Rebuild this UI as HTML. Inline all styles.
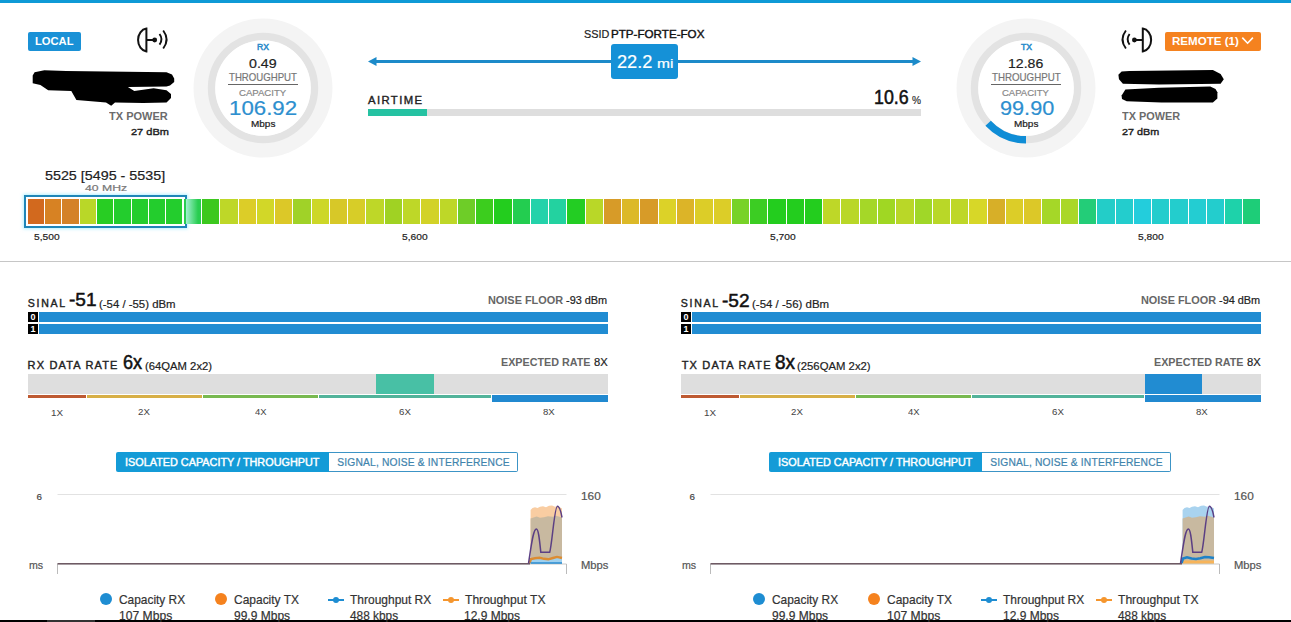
<!DOCTYPE html>
<html><head><meta charset="utf-8"><style>
html,body{margin:0;padding:0;width:1291px;height:622px;overflow:hidden;background:#fff;}
body{position:relative;font-family:"Liberation Sans",sans-serif;}
.abs{position:absolute;}
.t{position:absolute;white-space:nowrap;transform-origin:0 0;}
.cell{position:absolute;top:199px;height:25px;}
</style></head><body>
<div class="abs" style="left:0;top:0;width:1291px;height:3px;background:#0f9ad6"></div>
<div class="abs" style="left:28px;top:32px;width:53px;height:19px;background:#1a91d6;border-radius:2px"></div>
<div class="abs" style="left:1165px;top:32px;width:96px;height:19px;background:#f5821f;border-radius:2px"></div>
<svg class="abs" style="left:1240px;top:35px" width="16" height="12" viewBox="1240 35 16 12"><polyline points="1242.3,37.6 1247.6,43.2 1252.9,37.6" fill="none" stroke="#fff" stroke-width="1.6"/></svg>
<svg class="abs" style="left:130px;top:24px" width="42" height="32" viewBox="130 24 42 32">
<path d="M146.4,28.6 A9.6,11.5 0 0 0 146.4,51.4 Z" fill="none" stroke="#111" stroke-width="2"/>
<line x1="146.4" y1="40" x2="154" y2="40" stroke="#111" stroke-width="2"/>
<circle cx="154.7" cy="40" r="2.4" fill="#111"/>
<path d="M159.5,34 Q163.5,39.3 159.5,44.6" fill="none" stroke="#111" stroke-width="1.9"/>
<path d="M163.2,30.5 Q170,39.5 163.2,48.5" fill="none" stroke="#111" stroke-width="1.9"/>
</svg>
<svg class="abs" style="left:1116px;top:24px" width="42" height="32" viewBox="1116 24 42 32">
<path d="M1142.8,28.6 A9.6,11.5 0 0 1 1142.8,51.4 Z" fill="none" stroke="#111" stroke-width="2"/>
<line x1="1142.8" y1="40" x2="1135" y2="40" stroke="#111" stroke-width="2"/>
<circle cx="1134.4" cy="40" r="2.4" fill="#111"/>
<path d="M1129.6,34 Q1125.6,39.3 1129.6,44.6" fill="none" stroke="#111" stroke-width="1.9"/>
<path d="M1125.9,30.5 Q1119.1,39.5 1125.9,48.5" fill="none" stroke="#111" stroke-width="1.9"/>
</svg>
<svg class="abs" style="left:0;top:0" width="1291" height="622" viewBox="0 0 1291 622">
<path d="M32.7,75.4 L34.6,72.2 L44.3,70.3 L66.2,70.9 L166.5,72.2 L172,74.5 L174.2,78.5 L174.2,81.9 L170,85.5 L166.5,86.4 L127.9,87 L134.3,90.9 L153.6,88.3 L166.5,90.2 L171,94 L171,98 L166.5,102.4 L143.3,103.1 L115,102.4 L111.2,105.7 L106,102.4 L76.4,99.9 L71.3,90.9 L48.2,90.2 L40.4,85.1 L32.7,83.2 Z" fill="#000"/>
<path d="M1118.4,74.8 L1121.6,71.6 L1129.3,70.9 L1212.9,70 L1220.6,74.1 L1223.8,79.3 L1220.6,83.8 L1158.9,84.4 L1122.9,83.8 L1119,79.3 Z" fill="#000"/>
<path d="M1121.6,95.4 L1125.4,89.6 L1158.9,87.7 L1210.3,86.4 L1215.5,89 L1217.4,92.2 L1217.4,98.6 L1212.9,102.4 L1161.4,102.4 L1126.7,101.2 L1122,99 Z" fill="#000"/>
</svg>
<svg class="abs" style="left:190.60000000000002px;top:15.599999999999994px" width="144" height="144" viewBox="-72 -72 144 144"><circle cx="0" cy="0" r="69.5" fill="#f4f4f4"/><circle cx="0" cy="0" r="51.5" fill="none" stroke="#e3e3e3" stroke-width="7.4"/><circle cx="0" cy="0" r="47.8" fill="#fff"/></svg>
<svg class="abs" style="left:954.0px;top:16.0px" width="144" height="144" viewBox="-72 -72 144 144"><circle cx="0" cy="0" r="69.5" fill="#f4f4f4"/><circle cx="0" cy="0" r="51.5" fill="none" stroke="#e3e3e3" stroke-width="7.4"/><circle cx="0" cy="0" r="47.8" fill="#fff"/><path d="M0,51.8 A51.8,51.8 0 0 1 -37.88,35.33" fill="none" stroke="#0f8dd6" stroke-width="7.4"/></svg>
<div class="abs" style="left:228px;top:84px;width:70px;height:1px;background:#666"></div>
<div class="abs" style="left:991px;top:84px;width:70px;height:1px;background:#666"></div>
<svg class="abs" style="left:0;top:0" width="1291" height="622" viewBox="0 0 1291 622">
<line x1="374" y1="61.5" x2="915" y2="61.5" stroke="#1c8ac9" stroke-width="3"/>
<polygon points="368,61.5 376.5,57 376.5,66" fill="#1c8ac9"/>
<polygon points="921,61.5 912.5,57 912.5,66" fill="#1c8ac9"/>
</svg>
<div class="abs" style="left:611px;top:44px;width:67px;height:35px;background:#1591d7;border-radius:3px"></div>
<div class="abs" style="left:368px;top:109px;width:553px;height:7px;background:#dedede"></div>
<div class="abs" style="left:368px;top:109px;width:59px;height:7px;background:#25c2a2"></div>
<div class="abs" style="left:24px;top:195px;width:159px;height:29px;border:2px solid #1f86b8;box-shadow:0 0 3px 1px rgba(120,230,255,0.55)"></div>
<div class="cell" style="left:28.00px;width:16.00px;background:rgb(210,105,30)"></div>
<div class="cell" style="left:45.00px;width:16.00px;background:rgb(215,130,35)"></div>
<div class="cell" style="left:62.00px;width:17.00px;background:rgb(212,130,40)"></div>
<div class="cell" style="left:80.00px;width:16.00px;background:rgb(185,215,40)"></div>
<div class="cell" style="left:97.00px;width:16.00px;background:rgb(40,205,35)"></div>
<div class="cell" style="left:114.00px;width:17.00px;background:rgb(35,205,45)"></div>
<div class="cell" style="left:132.00px;width:16.00px;background:rgb(35,205,45)"></div>
<div class="cell" style="left:149.00px;width:16.00px;background:rgb(35,205,45)"></div>
<div class="cell" style="left:166.00px;width:16.00px;background:rgb(35,205,45)"></div>
<div class="cell" style="left:184.00px;width:17.00px;background:rgb(40,205,80)"></div>
<div class="cell" style="left:202.00px;width:17.00px;background:rgb(60,200,30)"></div>
<div class="cell" style="left:220.00px;width:18.00px;background:rgb(190,215,40)"></div>
<div class="cell" style="left:239.00px;width:17.00px;background:rgb(220,205,40)"></div>
<div class="cell" style="left:257.00px;width:17.00px;background:rgb(210,215,40)"></div>
<div class="cell" style="left:275.00px;width:17.00px;background:rgb(220,200,40)"></div>
<div class="cell" style="left:293.00px;width:18.00px;background:rgb(160,210,40)"></div>
<div class="cell" style="left:312.00px;width:17.00px;background:rgb(205,215,40)"></div>
<div class="cell" style="left:330.00px;width:17.00px;background:rgb(215,200,40)"></div>
<div class="cell" style="left:348.00px;width:17.00px;background:rgb(215,205,40)"></div>
<div class="cell" style="left:366.00px;width:18.00px;background:rgb(190,215,40)"></div>
<div class="cell" style="left:385.00px;width:17.00px;background:rgb(160,210,35)"></div>
<div class="cell" style="left:403.00px;width:17.00px;background:rgb(190,215,40)"></div>
<div class="cell" style="left:421.00px;width:18.00px;background:rgb(210,210,40)"></div>
<div class="cell" style="left:440.00px;width:17.00px;background:rgb(190,215,40)"></div>
<div class="cell" style="left:458.00px;width:17.00px;background:rgb(110,205,40)"></div>
<div class="cell" style="left:476.00px;width:17.00px;background:rgb(60,205,30)"></div>
<div class="cell" style="left:494.00px;width:18.00px;background:rgb(35,205,30)"></div>
<div class="cell" style="left:513.00px;width:17.00px;background:rgb(35,205,80)"></div>
<div class="cell" style="left:531.00px;width:17.00px;background:rgb(35,210,170)"></div>
<div class="cell" style="left:549.00px;width:17.00px;background:rgb(35,210,160)"></div>
<div class="cell" style="left:567.00px;width:18.00px;background:rgb(35,205,35)"></div>
<div class="cell" style="left:586.00px;width:17.00px;background:rgb(185,215,40)"></div>
<div class="cell" style="left:604.00px;width:17.00px;background:rgb(215,155,40)"></div>
<div class="cell" style="left:622.00px;width:17.00px;background:rgb(220,185,40)"></div>
<div class="cell" style="left:640.00px;width:18.00px;background:rgb(215,155,40)"></div>
<div class="cell" style="left:659.00px;width:17.00px;background:rgb(220,210,40)"></div>
<div class="cell" style="left:677.00px;width:17.00px;background:rgb(220,180,40)"></div>
<div class="cell" style="left:695.00px;width:18.00px;background:rgb(220,205,40)"></div>
<div class="cell" style="left:714.00px;width:17.00px;background:rgb(220,205,40)"></div>
<div class="cell" style="left:732.00px;width:17.00px;background:rgb(120,210,40)"></div>
<div class="cell" style="left:750.00px;width:17.00px;background:rgb(60,205,35)"></div>
<div class="cell" style="left:768.00px;width:18.00px;background:rgb(35,205,30)"></div>
<div class="cell" style="left:787.00px;width:17.00px;background:rgb(35,205,30)"></div>
<div class="cell" style="left:805.00px;width:17.00px;background:rgb(35,205,30)"></div>
<div class="cell" style="left:823.00px;width:17.00px;background:rgb(190,215,40)"></div>
<div class="cell" style="left:841.00px;width:18.00px;background:rgb(185,215,40)"></div>
<div class="cell" style="left:860.00px;width:17.00px;background:rgb(165,215,40)"></div>
<div class="cell" style="left:878.00px;width:17.00px;background:rgb(160,215,35)"></div>
<div class="cell" style="left:896.00px;width:18.00px;background:rgb(185,215,40)"></div>
<div class="cell" style="left:915.00px;width:17.00px;background:rgb(160,215,40)"></div>
<div class="cell" style="left:933.00px;width:17.00px;background:rgb(185,215,40)"></div>
<div class="cell" style="left:951.00px;width:17.00px;background:rgb(190,215,40)"></div>
<div class="cell" style="left:969.00px;width:18.00px;background:rgb(215,215,40)"></div>
<div class="cell" style="left:988.00px;width:17.00px;background:rgb(215,175,40)"></div>
<div class="cell" style="left:1006.00px;width:17.00px;background:rgb(220,205,40)"></div>
<div class="cell" style="left:1024.00px;width:17.00px;background:rgb(220,200,40)"></div>
<div class="cell" style="left:1042.00px;width:18.00px;background:rgb(165,215,40)"></div>
<div class="cell" style="left:1061.00px;width:17.00px;background:rgb(170,215,40)"></div>
<div class="cell" style="left:1079.00px;width:17.00px;background:rgb(35,205,120)"></div>
<div class="cell" style="left:1097.00px;width:18.00px;background:rgb(35,205,200)"></div>
<div class="cell" style="left:1116.00px;width:17.00px;background:rgb(35,205,205)"></div>
<div class="cell" style="left:1134.00px;width:17.00px;background:rgb(35,205,220)"></div>
<div class="cell" style="left:1152.00px;width:17.00px;background:rgb(35,205,205)"></div>
<div class="cell" style="left:1170.00px;width:18.00px;background:rgb(35,205,205)"></div>
<div class="cell" style="left:1189.00px;width:17.00px;background:rgb(35,205,210)"></div>
<div class="cell" style="left:1207.00px;width:17.00px;background:rgb(35,205,205)"></div>
<div class="cell" style="left:1225.00px;width:17.00px;background:rgb(30,210,170)"></div>
<div class="cell" style="left:1243.00px;width:17.00px;background:rgb(30,205,120)"></div>
<div class="abs" style="left:186px;top:199px;width:12px;height:25px;background:linear-gradient(90deg,rgba(190,250,240,0.8),rgba(190,250,240,0))"></div>
<div class="abs" style="left:0;top:261px;width:1291px;height:1px;background:#c6c6c6"></div>
<div class="abs" style="left:28px;top:312px;width:10px;height:10px;background:#000;color:#fff;font:bold 9px/10px 'Liberation Sans',sans-serif;text-align:center">0</div><div class="abs" style="left:39px;top:312px;width:569px;height:10px;background:#218cd2"></div><div class="abs" style="left:28px;top:324px;width:10px;height:10px;background:#000;color:#fff;font:bold 9px/10px 'Liberation Sans',sans-serif;text-align:center">1</div><div class="abs" style="left:39px;top:324px;width:569px;height:10px;background:#218cd2"></div><div class="abs" style="left:681px;top:312px;width:10px;height:10px;background:#000;color:#fff;font:bold 9px/10px 'Liberation Sans',sans-serif;text-align:center">0</div><div class="abs" style="left:692px;top:312px;width:569px;height:10px;background:#218cd2"></div><div class="abs" style="left:681px;top:324px;width:10px;height:10px;background:#000;color:#fff;font:bold 9px/10px 'Liberation Sans',sans-serif;text-align:center">1</div><div class="abs" style="left:692px;top:324px;width:569px;height:10px;background:#218cd2"></div>
<div class="abs" style="left:28px;top:374px;width:580px;height:20px;background:#dedede"></div><div class="abs" style="left:376px;top:374px;width:58px;height:20px;background:#48c0a5"></div><div class="abs" style="left:28px;top:395px;width:58px;height:3px;background:#be5a32"></div><div class="abs" style="left:87px;top:395px;width:115px;height:3px;background:#d7af46"></div><div class="abs" style="left:203px;top:395px;width:115px;height:3px;background:#78b950"></div><div class="abs" style="left:319px;top:395px;width:172px;height:3px;background:#52b39a"></div><div class="abs" style="left:492px;top:395px;width:116px;height:7px;background:#2189d0"></div>
<div class="abs" style="left:681px;top:374px;width:580px;height:20px;background:#dedede"></div><div class="abs" style="left:1145px;top:374px;width:57px;height:20px;background:#218cd2"></div><div class="abs" style="left:681px;top:395px;width:58px;height:3px;background:#be5a32"></div><div class="abs" style="left:740px;top:395px;width:115px;height:3px;background:#d7af46"></div><div class="abs" style="left:856px;top:395px;width:115px;height:3px;background:#78b950"></div><div class="abs" style="left:972px;top:395px;width:172px;height:3px;background:#52b39a"></div><div class="abs" style="left:1145px;top:395px;width:116px;height:7px;background:#2189d0"></div>
<div class="abs" style="left:116px;top:452px;width:213px;height:20px;background:#149bd7;border-radius:2px 0 0 2px"></div><div class="abs" style="left:329px;top:452px;width:188px;height:18px;border:1px solid #3c94c6;border-left:none;border-radius:0 2px 2px 0"></div><div class="abs" style="left:769px;top:452px;width:213px;height:20px;background:#149bd7;border-radius:2px 0 0 2px"></div><div class="abs" style="left:982px;top:452px;width:188px;height:18px;border:1px solid #3c94c6;border-left:none;border-radius:0 2px 2px 0"></div>
<svg class="abs" style="left:0;top:0" width="1291" height="622" viewBox="0 0 1291 622"><line x1="57.5" y1="494.5" x2="566.5" y2="494.5" stroke="#e2e2e2" stroke-width="1"/><line x1="57.5" y1="564" x2="566.5" y2="564" stroke="#c8c8c8" stroke-width="1"/><line x1="57.5" y1="564" x2="57.5" y2="574" stroke="#bbb" stroke-width="1"/><line x1="566.5" y1="564" x2="566.5" y2="574" stroke="#bbb" stroke-width="1"/><polygon points="530.6,563.5 530.6,510.0 532.5,508.0 535.0,507.2 537.5,508.0 540.0,506.8 543.0,506.2 546.0,507.3 549.0,505.8 552.0,505.5 555.0,506.8 558.0,506.2 562.0,508.5 562.0,563.5" fill="#f9cda2"/><polygon points="530.6,563.5 530.6,518.5 533.5,517.5 536.7,516.5 540.0,517.8 544.0,517.2 548.0,516.2 552.6,516.8 556.0,515.8 562.0,517.5 562.0,563.5" fill="#c8b9a0"/><polygon points="530.6,563.5 530.6,559.0 539.6,558.0 548.3,559.5 557.0,557.0 562.0,558.0 562.0,563.5" fill="#9fd0ee"/><polyline points="529.5,563.0 531.0,559.0 535.0,558.3 539.6,557.8 544.0,558.8 548.3,559.3 553.0,558.0 557.0,556.9 562.0,558.0" fill="none" stroke="#dc8c32" stroke-width="2.4"/><line x1="530.6" y1="563" x2="562" y2="563" stroke="#2a8cd2" stroke-width="1.5"/><line x1="57.5" y1="563.7" x2="530" y2="563.7" stroke="#6e5a64" stroke-width="1.4"/><path d="M528.5,563.5 C531,548 533,529 536.4,529 C538.5,529 539.5,540 540.8,552.2 L549.7,552.2 C552,545 554.5,506.2 557.4,506.2 C559.5,506.2 561,512 562,517.5" fill="none" stroke="#5b3f84" stroke-width="1.5"/></svg><svg class="abs" style="left:0;top:0" width="1291" height="622" viewBox="0 0 1291 622"><line x1="710.5" y1="494.5" x2="1219.5" y2="494.5" stroke="#e2e2e2" stroke-width="1"/><line x1="710.5" y1="564" x2="1219.5" y2="564" stroke="#c8c8c8" stroke-width="1"/><line x1="710.5" y1="564" x2="710.5" y2="574" stroke="#bbb" stroke-width="1"/><line x1="1219.5" y1="564" x2="1219.5" y2="574" stroke="#bbb" stroke-width="1"/><polygon points="1182.6,563.5 1182.6,510.0 1184.5,508.0 1187.0,507.2 1189.5,508.0 1192.0,506.8 1195.0,506.2 1198.0,507.3 1201.0,505.8 1204.0,505.5 1207.0,506.8 1210.0,506.2 1214.0,508.5 1214.0,563.5" fill="#a9d3ef"/><polygon points="1182.6,563.5 1182.6,518.5 1185.5,517.5 1188.7,516.5 1192.0,517.8 1196.0,517.2 1200.0,516.2 1204.6,516.8 1208.0,515.8 1214.0,517.5 1214.0,563.5" fill="#c8b9a0"/><polygon points="1182.6,563.5 1182.6,560.5 1214.0,560.5 1214.0,563.5" fill="#f7b45a"/><polyline points="1181.5,563.0 1183.0,558.5 1187.0,557.3 1191.6,558.5 1196.0,559.0 1200.3,558.3 1205.0,557.0 1209.0,557.2 1214.0,558.0" fill="none" stroke="#1e82c8" stroke-width="2.6"/><line x1="710.5" y1="563.7" x2="1182" y2="563.7" stroke="#6e5a64" stroke-width="1.4"/><path d="M1180.5,563.5 C1183,548 1185,529 1188.4,529 C1190.5,529 1191.5,540 1192.8,552.2 L1201.7,552.2 C1204,545 1206.5,506.2 1209.4,506.2 C1211.5,506.2 1213,512 1214,517.5" fill="none" stroke="#5b3f84" stroke-width="1.5"/></svg>
<div class="abs" style="left:100px;top:593px;width:12px;height:12px;border-radius:50%;background:#1e8dd2"></div><div class="abs" style="left:215px;top:593px;width:12px;height:12px;border-radius:50%;background:#f5821e"></div><div class="abs" style="left:328px;top:599px;width:16px;height:2px;background:#1e8dd2"></div><div class="abs" style="left:333px;top:597px;width:6px;height:6px;border-radius:50%;background:#1e8dd2"></div><div class="abs" style="left:443px;top:599px;width:16px;height:2px;background:#f5962e"></div><div class="abs" style="left:448px;top:597px;width:6px;height:6px;border-radius:50%;background:#f5962e"></div><div class="abs" style="left:753px;top:593px;width:12px;height:12px;border-radius:50%;background:#1e8dd2"></div><div class="abs" style="left:868px;top:593px;width:12px;height:12px;border-radius:50%;background:#f5821e"></div><div class="abs" style="left:981px;top:599px;width:16px;height:2px;background:#1e8dd2"></div><div class="abs" style="left:986px;top:597px;width:6px;height:6px;border-radius:50%;background:#1e8dd2"></div><div class="abs" style="left:1096px;top:599px;width:16px;height:2px;background:#f5962e"></div><div class="abs" style="left:1101px;top:597px;width:6px;height:6px;border-radius:50%;background:#f5962e"></div>
<div class="abs" style="left:0;top:620px;width:1291px;height:2px;background:#000"></div>
<div class="abs" style="left:47px;top:620px;width:48px;height:2px;background:#333"></div>
<div class="t" style="left:35.03px;top:35.99px;font-size:11.00px;color:#fff;font-weight:bold;transform:scaleX(1.0164);line-height:11.00px">LOCAL</div>
<div class="t" style="left:109.09px;top:110.87px;font-size:11.14px;color:#6b6b6b;font-weight:bold;transform:scaleX(0.9901);line-height:11.14px">TX POWER</div>
<div class="t" style="left:130.55px;top:126.75px;font-size:9.86px;color:#1e1e1e;-webkit-text-stroke:0.4px currentColor;transform:scaleX(1.1163);line-height:9.86px">27 dBm</div>
<div class="t" style="left:257.11px;top:43.04px;font-size:8.57px;color:#2a8ccb;-webkit-text-stroke:0.5px currentColor;transform:scaleX(1.0112);line-height:8.57px">RX</div>
<div class="t" style="left:249.27px;top:57.37px;font-size:13.14px;color:#222;-webkit-text-stroke:0.2px currentColor;transform:scaleX(1.0822);line-height:13.14px">0.49</div>
<div class="t" style="left:229.41px;top:71.73px;font-size:10.71px;color:#777;-webkit-text-stroke:0.2px currentColor;transform:scaleX(0.8995);line-height:10.71px">THROUGHPUT</div>
<div class="t" style="left:238.82px;top:88.37px;font-size:9.71px;color:#888;-webkit-text-stroke:0.2px currentColor;transform:scaleX(0.9871);line-height:9.71px">CAPACITY</div>
<div class="t" style="left:229.34px;top:98.17px;font-size:20.00px;color:#2d8fcf;-webkit-text-stroke:0.2px currentColor;transform:scaleX(1.1130);line-height:20.00px">106.92</div>
<div class="t" style="left:250.60px;top:120.48px;font-size:8.77px;color:#222;-webkit-text-stroke:0.2px currentColor;transform:scaleX(1.1380);line-height:8.77px">Mbps</div>
<div class="t" style="left:584.07px;top:29.20px;font-size:10.99px;color:#222;-webkit-text-stroke:0.2px currentColor;transform:scaleX(0.9863);line-height:10.99px">SSID</div>
<div class="t" style="left:611.47px;top:29.07px;font-size:11.14px;color:#111;-webkit-text-stroke:0.4px currentColor;transform:scaleX(1.0444);line-height:11.14px">PTP-FORTE-FOX</div>
<div class="t" style="left:616.69px;top:52.74px;font-size:18.14px;color:#fff;-webkit-text-stroke:0.2px currentColor;transform:scaleX(1.0040);line-height:18.14px">22.2</div>
<div class="t" style="left:656.77px;top:56.97px;font-size:13.15px;color:#fff;-webkit-text-stroke:0.2px currentColor;transform:scaleX(1.1818);line-height:13.15px">mi</div>
<div class="t" style="left:368.10px;top:94.84px;font-size:11.29px;color:#222;-webkit-text-stroke:0.4px currentColor;letter-spacing:1.392px;line-height:11.29px">AIRTIME</div>
<div class="t" style="left:873.75px;top:87.67px;font-size:19.29px;color:#111;-webkit-text-stroke:0.5px currentColor;transform:scaleX(0.9242);line-height:19.29px">10.6</div>
<div class="t" style="left:912.00px;top:95.53px;font-size:10.00px;color:#333;-webkit-text-stroke:0.2px currentColor;transform:scaleX(1.0120);line-height:10.00px">%</div>
<div class="t" style="left:1021.03px;top:42.94px;font-size:8.70px;color:#2a8ccb;-webkit-text-stroke:0.5px currentColor;transform:scaleX(1.0009);line-height:8.70px">TX</div>
<div class="t" style="left:1008.11px;top:57.37px;font-size:13.14px;color:#222;-webkit-text-stroke:0.2px currentColor;transform:scaleX(1.0732);line-height:13.14px">12.86</div>
<div class="t" style="left:992.01px;top:71.73px;font-size:10.71px;color:#777;-webkit-text-stroke:0.2px currentColor;transform:scaleX(0.9088);line-height:10.71px">THROUGHPUT</div>
<div class="t" style="left:1002.12px;top:88.37px;font-size:9.71px;color:#888;-webkit-text-stroke:0.2px currentColor;transform:scaleX(0.9807);line-height:9.71px">CAPACITY</div>
<div class="t" style="left:999.83px;top:98.17px;font-size:20.00px;color:#2d8fcf;-webkit-text-stroke:0.2px currentColor;transform:scaleX(1.0840);line-height:20.00px">99.90</div>
<div class="t" style="left:1013.90px;top:120.48px;font-size:8.77px;color:#222;-webkit-text-stroke:0.2px currentColor;transform:scaleX(1.1380);line-height:8.77px">Mbps</div>
<div class="t" style="left:1171.91px;top:36.02px;font-size:10.96px;color:#fff;font-weight:bold;transform:scaleX(1.0564);line-height:10.96px">REMOTE (1)</div>
<div class="t" style="left:1122.09px;top:110.87px;font-size:11.14px;color:#6b6b6b;font-weight:bold;transform:scaleX(0.9783);line-height:11.14px">TX POWER</div>
<div class="t" style="left:1121.66px;top:126.75px;font-size:9.86px;color:#1e1e1e;-webkit-text-stroke:0.4px currentColor;transform:scaleX(1.0950);line-height:9.86px">27 dBm</div>
<div class="t" style="left:44.73px;top:168.82px;font-size:13.20px;color:#222;-webkit-text-stroke:0.2px currentColor;transform:scaleX(1.0850);line-height:13.20px">5525 [5495 - 5535]</div>
<div class="t" style="left:84.76px;top:184.44px;font-size:9.29px;color:#777;-webkit-text-stroke:0.2px currentColor;transform:scaleX(1.3170);line-height:9.29px">40 MHz</div>
<div class="t" style="left:33.79px;top:232.00px;font-size:9.80px;color:#222;-webkit-text-stroke:0.2px currentColor;transform:scaleX(1.0430);line-height:9.80px">5,500</div>
<div class="t" style="left:401.79px;top:232.00px;font-size:9.80px;color:#222;-webkit-text-stroke:0.2px currentColor;transform:scaleX(1.0430);line-height:9.80px">5,600</div>
<div class="t" style="left:769.79px;top:232.00px;font-size:9.80px;color:#222;-webkit-text-stroke:0.2px currentColor;transform:scaleX(1.0430);line-height:9.80px">5,700</div>
<div class="t" style="left:1137.79px;top:232.00px;font-size:9.80px;color:#222;-webkit-text-stroke:0.2px currentColor;transform:scaleX(1.0430);line-height:9.80px">5,800</div>
<div class="t" style="left:27.78px;top:298.46px;font-size:10.56px;color:#222;-webkit-text-stroke:0.4px currentColor;letter-spacing:1.742px;line-height:10.56px">SINAL</div>
<div class="t" style="left:69.14px;top:291.45px;font-size:18.84px;color:#111;-webkit-text-stroke:0.5px currentColor;transform:scaleX(1.0114);line-height:18.84px">-51</div>
<div class="t" style="left:98.52px;top:297.68px;font-size:11.60px;color:#222;-webkit-text-stroke:0.2px currentColor;transform:scaleX(0.9821);line-height:11.60px">(-54 / -55) dBm</div>
<div class="t" style="left:488.05px;top:294.64px;font-size:11.29px;color:#666;font-weight:bold;transform:scaleX(0.9658);line-height:11.29px">NOISE FLOOR</div>
<div class="t" style="left:566.36px;top:295.04px;font-size:10.82px;color:#222;-webkit-text-stroke:0.2px currentColor;transform:scaleX(1.0079);line-height:10.82px">-93 dBm</div>
<div class="t" style="left:27.62px;top:360.19px;font-size:11.00px;color:#222;-webkit-text-stroke:0.4px currentColor;letter-spacing:1.161px;line-height:11.00px">RX DATA RATE</div>
<div class="t" style="left:122.59px;top:352.81px;font-size:19.71px;color:#111;-webkit-text-stroke:0.5px currentColor;transform:scaleX(0.9217);line-height:19.71px">6x</div>
<div class="t" style="left:144.82px;top:359.68px;font-size:11.60px;color:#222;-webkit-text-stroke:0.2px currentColor;transform:scaleX(0.9724);line-height:11.60px">(64QAM 2x2)</div>
<div class="t" style="left:501.15px;top:356.74px;font-size:11.29px;color:#666;font-weight:bold;transform:scaleX(0.9541);line-height:11.29px">EXPECTED RATE</div>
<div class="t" style="left:593.75px;top:356.74px;font-size:11.29px;color:#222;-webkit-text-stroke:0.2px currentColor;transform:scaleX(0.9954);line-height:11.29px">8X</div>
<div class="t" style="left:51.11px;top:408.32px;font-size:9.42px;color:#444;transform:scaleX(1.0464);line-height:9.42px">1X</div>
<div class="t" style="left:138.02px;top:408.44px;font-size:9.29px;color:#444;transform:scaleX(1.0432);line-height:9.29px">2X</div>
<div class="t" style="left:254.51px;top:408.44px;font-size:9.29px;color:#444;transform:scaleX(1.0169);line-height:9.29px">4X</div>
<div class="t" style="left:398.72px;top:408.44px;font-size:9.29px;color:#444;transform:scaleX(1.0432);line-height:9.29px">6X</div>
<div class="t" style="left:543.32px;top:408.44px;font-size:9.29px;color:#444;transform:scaleX(1.0343);line-height:9.29px">8X</div>
<div class="t" style="left:124.72px;top:458.33px;font-size:10.00px;color:#fff;-webkit-text-stroke:0.4px currentColor;transform:scaleX(1.0844);line-height:10.00px">ISOLATED CAPACITY / THROUGHPUT</div>
<div class="t" style="left:337.19px;top:457.89px;font-size:10.28px;color:#3f84ad;-webkit-text-stroke:0.2px currentColor;letter-spacing:0.175px;line-height:10.28px">SIGNAL, NOISE &amp; INTERFERENCE</div>
<div class="t" style="left:36.41px;top:491.80px;font-size:9.80px;color:#444;-webkit-text-stroke:0.2px currentColor;line-height:9.80px">6</div>
<div class="t" style="left:28.96px;top:560.39px;font-size:11.00px;color:#555;-webkit-text-stroke:0.2px currentColor;transform:scaleX(0.9654);line-height:11.00px">ms</div>
<div class="t" style="left:580.87px;top:490.91px;font-size:10.86px;color:#555;-webkit-text-stroke:0.2px currentColor;transform:scaleX(1.0907);line-height:10.86px">160</div>
<div class="t" style="left:580.80px;top:560.27px;font-size:10.55px;color:#555;-webkit-text-stroke:0.2px currentColor;transform:scaleX(1.0636);line-height:10.55px">Mbps</div>
<div class="t" style="left:680.78px;top:298.46px;font-size:10.56px;color:#222;-webkit-text-stroke:0.4px currentColor;letter-spacing:1.742px;line-height:10.56px">SINAL</div>
<div class="t" style="left:722.14px;top:291.68px;font-size:18.57px;color:#111;-webkit-text-stroke:0.5px currentColor;transform:scaleX(1.0261);line-height:18.57px">-52</div>
<div class="t" style="left:751.51px;top:297.68px;font-size:11.60px;color:#222;-webkit-text-stroke:0.2px currentColor;transform:scaleX(0.9886);line-height:11.60px">(-54 / -56) dBm</div>
<div class="t" style="left:1141.05px;top:294.64px;font-size:11.29px;color:#666;font-weight:bold;transform:scaleX(0.9658);line-height:11.29px">NOISE FLOOR</div>
<div class="t" style="left:1219.36px;top:295.04px;font-size:10.82px;color:#222;-webkit-text-stroke:0.2px currentColor;transform:scaleX(1.0079);line-height:10.82px">-94 dBm</div>
<div class="t" style="left:681.68px;top:360.19px;font-size:11.00px;color:#222;-webkit-text-stroke:0.4px currentColor;letter-spacing:1.185px;line-height:11.00px">TX DATA RATE</div>
<div class="t" style="left:774.54px;top:352.81px;font-size:19.71px;color:#111;-webkit-text-stroke:0.5px currentColor;transform:scaleX(0.9629);line-height:19.71px">8x</div>
<div class="t" style="left:797.32px;top:359.68px;font-size:11.60px;color:#222;-webkit-text-stroke:0.2px currentColor;transform:scaleX(0.9768);line-height:11.60px">(256QAM 2x2)</div>
<div class="t" style="left:1154.15px;top:356.74px;font-size:11.29px;color:#666;font-weight:bold;transform:scaleX(0.9541);line-height:11.29px">EXPECTED RATE</div>
<div class="t" style="left:1246.75px;top:356.74px;font-size:11.29px;color:#222;-webkit-text-stroke:0.2px currentColor;transform:scaleX(0.9954);line-height:11.29px">8X</div>
<div class="t" style="left:704.11px;top:408.32px;font-size:9.42px;color:#444;transform:scaleX(1.0464);line-height:9.42px">1X</div>
<div class="t" style="left:791.02px;top:408.44px;font-size:9.29px;color:#444;transform:scaleX(1.0432);line-height:9.29px">2X</div>
<div class="t" style="left:907.51px;top:408.44px;font-size:9.29px;color:#444;transform:scaleX(1.0169);line-height:9.29px">4X</div>
<div class="t" style="left:1051.72px;top:408.44px;font-size:9.29px;color:#444;transform:scaleX(1.0432);line-height:9.29px">6X</div>
<div class="t" style="left:1196.32px;top:408.44px;font-size:9.29px;color:#444;transform:scaleX(1.0343);line-height:9.29px">8X</div>
<div class="t" style="left:777.72px;top:458.33px;font-size:10.00px;color:#fff;-webkit-text-stroke:0.4px currentColor;transform:scaleX(1.0844);line-height:10.00px">ISOLATED CAPACITY / THROUGHPUT</div>
<div class="t" style="left:990.19px;top:457.89px;font-size:10.28px;color:#3f84ad;-webkit-text-stroke:0.2px currentColor;letter-spacing:0.175px;line-height:10.28px">SIGNAL, NOISE &amp; INTERFERENCE</div>
<div class="t" style="left:689.41px;top:491.80px;font-size:9.80px;color:#444;-webkit-text-stroke:0.2px currentColor;line-height:9.80px">6</div>
<div class="t" style="left:681.96px;top:560.39px;font-size:11.00px;color:#555;-webkit-text-stroke:0.2px currentColor;transform:scaleX(0.9654);line-height:11.00px">ms</div>
<div class="t" style="left:1233.87px;top:490.91px;font-size:10.86px;color:#555;-webkit-text-stroke:0.2px currentColor;transform:scaleX(1.0907);line-height:10.86px">160</div>
<div class="t" style="left:1233.80px;top:560.27px;font-size:10.55px;color:#555;-webkit-text-stroke:0.2px currentColor;transform:scaleX(1.0636);line-height:10.55px">Mbps</div>
<div class="t" style="left:118.80px;top:594.27px;font-size:12.20px;color:#333;-webkit-text-stroke:0.2px currentColor;transform:scaleX(0.9763);line-height:12.20px">Capacity RX</div>
<div class="t" style="left:118.85px;top:609.57px;font-size:12.20px;color:#333;-webkit-text-stroke:0.2px currentColor;transform:scaleX(0.9951);line-height:12.20px">107 Mbps</div>
<div class="t" style="left:234.00px;top:594.27px;font-size:12.20px;color:#333;-webkit-text-stroke:0.2px currentColor;transform:scaleX(0.9828);line-height:12.20px">Capacity TX</div>
<div class="t" style="left:234.42px;top:609.57px;font-size:12.20px;color:#333;-webkit-text-stroke:0.2px currentColor;transform:scaleX(0.9855);line-height:12.20px">99.9 Mbps</div>
<div class="t" style="left:350.06px;top:594.27px;font-size:12.20px;color:#333;-webkit-text-stroke:0.2px currentColor;transform:scaleX(0.9832);line-height:12.20px">Throughput RX</div>
<div class="t" style="left:350.36px;top:609.57px;font-size:12.20px;color:#333;-webkit-text-stroke:0.2px currentColor;transform:scaleX(0.9713);line-height:12.20px">488 kbps</div>
<div class="t" style="left:464.76px;top:594.27px;font-size:12.20px;color:#333;-webkit-text-stroke:0.2px currentColor;transform:scaleX(0.9922);line-height:12.20px">Throughput TX</div>
<div class="t" style="left:464.46px;top:609.57px;font-size:12.20px;color:#333;-webkit-text-stroke:0.2px currentColor;transform:scaleX(0.9848);line-height:12.20px">12.9 Mbps</div>
<div class="t" style="left:771.80px;top:594.27px;font-size:12.20px;color:#333;-webkit-text-stroke:0.2px currentColor;transform:scaleX(0.9763);line-height:12.20px">Capacity RX</div>
<div class="t" style="left:772.22px;top:609.57px;font-size:12.20px;color:#333;-webkit-text-stroke:0.2px currentColor;transform:scaleX(0.9855);line-height:12.20px">99.9 Mbps</div>
<div class="t" style="left:887.00px;top:594.27px;font-size:12.20px;color:#333;-webkit-text-stroke:0.2px currentColor;transform:scaleX(0.9828);line-height:12.20px">Capacity TX</div>
<div class="t" style="left:887.05px;top:609.57px;font-size:12.20px;color:#333;-webkit-text-stroke:0.2px currentColor;transform:scaleX(0.9951);line-height:12.20px">107 Mbps</div>
<div class="t" style="left:1003.06px;top:594.27px;font-size:12.20px;color:#333;-webkit-text-stroke:0.2px currentColor;transform:scaleX(0.9832);line-height:12.20px">Throughput RX</div>
<div class="t" style="left:1002.76px;top:609.57px;font-size:12.20px;color:#333;-webkit-text-stroke:0.2px currentColor;transform:scaleX(0.9848);line-height:12.20px">12.9 Mbps</div>
<div class="t" style="left:1117.76px;top:594.27px;font-size:12.20px;color:#333;-webkit-text-stroke:0.2px currentColor;transform:scaleX(0.9922);line-height:12.20px">Throughput TX</div>
<div class="t" style="left:1118.06px;top:609.57px;font-size:12.20px;color:#333;-webkit-text-stroke:0.2px currentColor;transform:scaleX(0.9713);line-height:12.20px">488 kbps</div>
</body></html>
